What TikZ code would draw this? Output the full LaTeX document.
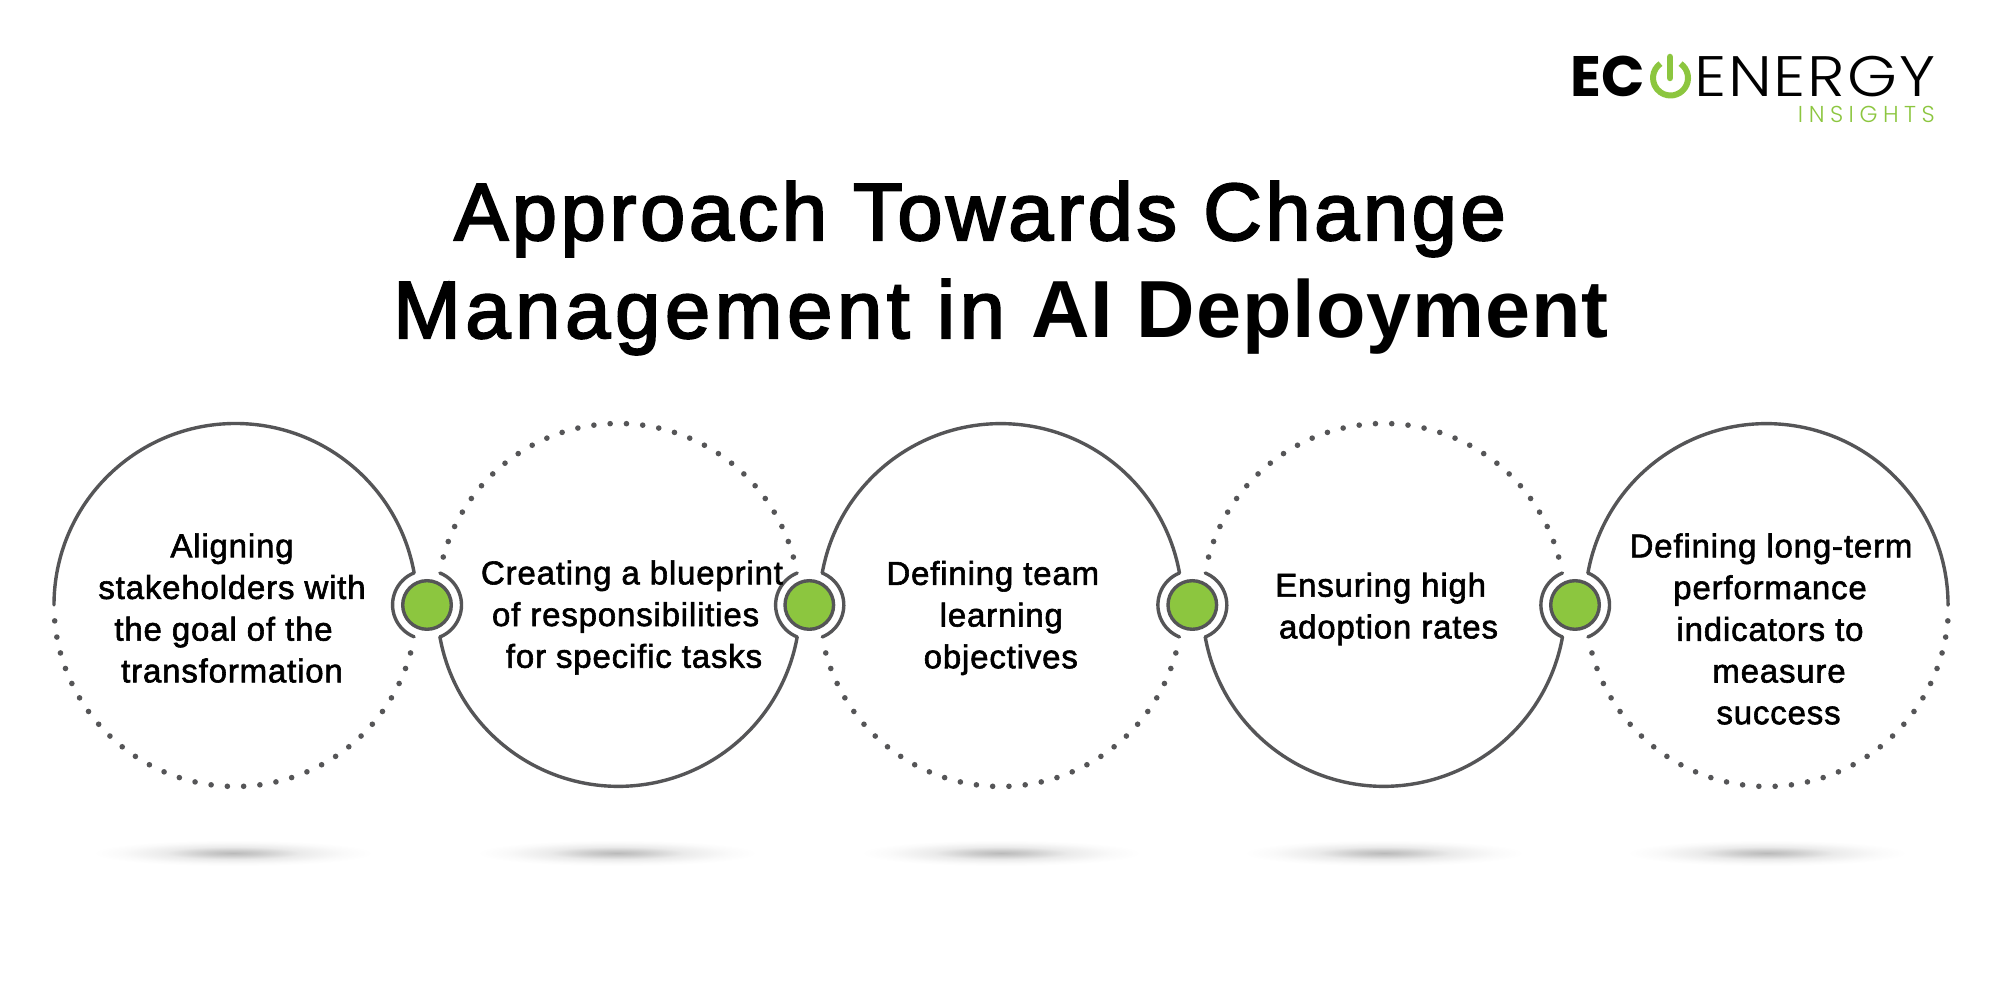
\documentclass[tikz,border=0pt]{standalone}
\usepackage{fontspec}
\setmainfont{Liberation Sans}
\newfontfamily\bodyfont[FakeBold=1.8,LetterSpace=2.5]{Liberation Sans}
\newfontfamily\titlefont[FakeBold=2.6,LetterSpace=4.6]{Liberation Sans}
\newfontfamily\titlemgmt[FakeBold=2.6,LetterSpace=6]{Liberation Sans}
\newfontfamily\titlebold[LetterSpace=1.2]{Liberation Sans Bold}
\newfontfamily\logobold{Poppins Bold}
\newfontfamily\logolight[LetterSpace=3]{Poppins Light}
\newfontfamily\logothin[LetterSpace=24]{Poppins Light}
\definecolor{ring}{HTML}{555557}
\definecolor{leaf}{HTML}{8CC63F}
\pgfdeclareradialshading{softshadow}{\pgfpointorigin}{
  color(0bp)=(black!27); color(5bp)=(black!20); color(12bp)=(black!8); color(20bp)=(black!2); color(25bp)=(white); color(50bp)=(white)}
\newcommand{\nudge}[1]{\hspace*{#1pt}\mbox{}}
\tikzset{
  x=1pt,y=1pt,
  solidarc/.style={draw=ring,line width=3.4pt,line cap=round,line join=round},
  ringarc/.style={draw=ring,line width=3.4pt,line cap=round},
  hub/.style={circle,draw=ring,fill=leaf,line width=3.4pt,minimum size=48.6pt,inner sep=0pt},
  label/.style={font=\bodyfont\fontsize{33}{41.7}\selectfont,text=black,align=center,inner sep=0pt},
  titleline/.style={font=\titlefont\fontsize{81}{98}\selectfont,text=black,inner sep=0pt,anchor=base west},
}
% dotted arc: centre x, mid angle, steps one way, steps the other way
\newcommand{\dotarc}[4]{%
  \foreach \k in {1,...,#3}{\fill[ring] ({#1+181.5*cos(#2-(\k-0.5)*5.15)},{395+181.5*sin(#2-(\k-0.5)*5.15)}) circle (2.8);}%
  \foreach \k in {1,...,#4}{\fill[ring] ({#1+181.5*cos(#2+(\k-0.5)*5.15)},{395+181.5*sin(#2+(\k-0.5)*5.15)}) circle (2.8);}%
}
\begin{document}
\begin{tikzpicture}
\useasboundingbox (0,0) rectangle (2000,1000);
\fill[white] (0,0) rectangle (2000,1000);

% shadows
\foreach \cx in {233,617,1001,1384,1767}
  \shade[shading=softshadow] (\cx,147) ellipse (140 and 13);

% circles: solid halves
\draw[solidarc] (54,395) arc[start angle=180,end angle=10.2,radius=181.5]
   arc[start angle=112,end angle=248,radius=34.5];
\draw[ringarc] (427,395) ++(-68:34.5) arc[start angle=-68,end angle=68,radius=34.5];
\draw[solidarc] (427,395) ++(-68:34.5) arc[start angle=190.2,end angle=349.8,radius=181.5]
   arc[start angle=248,end angle=112,radius=34.5];
\draw[ringarc] (809.3,395) ++(-68:34.5) arc[start angle=-68,end angle=68,radius=34.5];
\draw[solidarc] (809.3,395) ++(68:34.5) arc[start angle=169.8,end angle=10.2,radius=181.5]
   arc[start angle=112,end angle=248,radius=34.5];
\draw[ringarc] (1192.3,395) ++(-68:34.5) arc[start angle=-68,end angle=68,radius=34.5];
\draw[solidarc] (1192.3,395) ++(-68:34.5) arc[start angle=190.2,end angle=349.8,radius=181.5]
   arc[start angle=248,end angle=112,radius=34.5];
\draw[ringarc] (1575,395) ++(-68:34.5) arc[start angle=-68,end angle=68,radius=34.5];
\draw[solidarc] (1575,395) ++(68:34.5) arc[start angle=169.8,end angle=0,radius=181.5];

% circles: dotted halves
\dotarc{235.5}{270}{17}{15}
\dotarc{618.3}{90}{15}{15}
\dotarc{1000.8}{270}{15}{15}
\dotarc{1383.6}{90}{15}{15}
\dotarc{1767}{270}{15}{17}

% hubs
\node[hub] (h1) at (427,395) {};
\node[hub] (h2) at (809.3,395) {};
\node[hub] (h3) at (1192.3,395) {};
\node[hub] (h4) at (1575,395) {};

% labels
\node[label] (t1) at (232,392) {Aligning\\stakeholders with\\the goal of the\nudge{17}\\transformation};
\node[label] (t2) at (632,382.5) {Creating a blueprint\\of responsibilities\nudge{12.8}\\\nudge{4}for specific tasks};
\node[label] (t3) at (992.8,382) {Defining team\\\nudge{17}learning\\\nudge{16}objectives};
\node[label] (t4) at (1388.5,391) {Ensuring high\nudge{15.6}\\adoption rates};
\node[label] (t5) at (1771,371) {Defining long-term\\performance\nudge{2}\\indicators to\nudge{2}\\\nudge{16}measure\\\nudge{15}success};

% title
\node[titleline] (title1) at (454,760) {Approach Towards Change};
\node[titleline] (title2) at (393,662) {{\titlemgmt Management in} {\titlebold AI Deployment}};

% logo
\node[font=\logobold\fontsize{57}{57}\selectfont,text=black,inner sep=0pt,anchor=base west] (eco) at (1570,903) {EC};
\draw[leaf,line width=6pt] (1670.5,922) ++(55:17.5) arc[start angle=55,end angle=-235,radius=17.5];
\draw[leaf,line width=6.5pt,line cap=round] (1670,922) -- (1670,943);
\node[font=\logolight\fontsize{57}{57}\selectfont,text=black,inner sep=0pt,anchor=base west] (energy) at (1694,903) {\scalebox{1.12}[1]{ENERGY}};
\node[font=\logothin\fontsize{23}{23}\selectfont,text=leaf,inner sep=0pt,anchor=base east] (insights) at (1935,877) {INSIGHTS};
\end{tikzpicture}
\end{document}
